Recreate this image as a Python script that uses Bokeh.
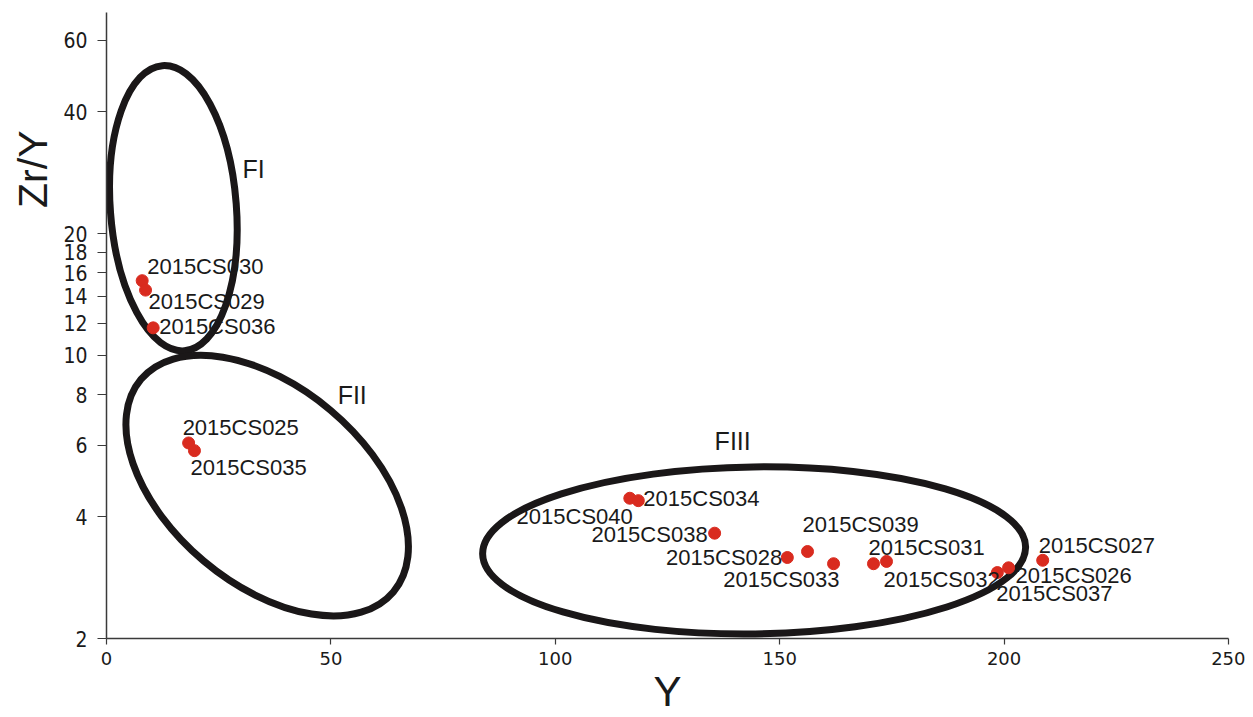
from bokeh.plotting import figure
from bokeh.models import ColumnDataSource, FixedTicker, Range1d, Title, CustomJSTickFormatter
from bokeh.core.properties import value
from bokeh.embed import file_html
from bokeh.resources import INLINE

# ---- data ----
samples = ["2015CS030", "2015CS029", "2015CS036", "2015CS025", "2015CS035",
           "2015CS040", "2015CS034", "2015CS038", "2015CS028", "2015CS039",
           "2015CS033", "2015CS031", "2015CS032", "2015CS037", "2015CS026",
           "2015CS027"]
y_ppm = [7.95, 8.7, 10.4, 18.3, 19.6,
         116.6, 118.5, 135.5, 151.7, 156.2,
         162.0, 170.9, 173.8, 198.5, 201.0,
         208.6]
zr_y = [15.3, 14.5, 11.7, 6.08, 5.82,
        4.44, 4.38, 3.64, 3.17, 3.28,
        3.06, 3.06, 3.10, 2.91, 2.99,
        3.12]

groups = ["FI", "FII", "FIII"]
group_y_ppm = [30.3, 51.5, 135.5]
group_zr_y = [28.9, 8.0, 6.16]

# ellipse fields (centre in data units)
field_cx = [14.9, 35.8, 144.3]
field_cy = [23.1, 4.77, 3.30]

x_ticks = [0, 50, 100, 150, 200, 250]
y_ticks = [2, 4, 6, 8, 10, 12, 14, 16, 18, 20, 40, 60]

# ---- layout / style (screen units) ----
field_w = [126, 330, 543]
field_h = [286, 197, 167]
field_angle = [0.077, -0.70, 0.013]

label_dx = [5, 3, 6, -6, -4, 3, 5, -7, -5, -5, 6, -5, -3, -1, 7, -4]
label_dy = [-14, 11, -1, -15, 17, 18, -2, 1, 0, -27, 16, -16, 18, 21, 8, -15]
label_align = ["left", "left", "left", "left", "left", "right", "left", "right",
               "right", "left", "right", "left", "left", "left", "left", "left"]

p = figure(width=1245, height=717, y_axis_type="log",
           x_range=Range1d(0, 250), y_range=Range1d(2, 70.3),
           output_backend="svg", toolbar_location=None,
           min_border_left=106, min_border_right=17,
           min_border_top=12, min_border_bottom=79)
p.outline_line_color = None
p.xgrid.visible = False
p.ygrid.visible = False
p.background_fill_color = "white"
p.border_fill_color = "white"

axis_color = "#3a3a3a"
p.xaxis.ticker = FixedTicker(ticks=x_ticks)
p.yaxis.ticker = FixedTicker(ticks=y_ticks)
p.yaxis.formatter = CustomJSTickFormatter(code="return tick.toString();")
for ax in (p.xaxis, p.yaxis):
    ax.axis_line_color = axis_color
    ax.axis_line_width = 1.5
    ax.major_tick_line_color = axis_color
    ax.major_tick_line_width = 1.2
    ax.minor_tick_line_color = None
    ax.major_tick_in = 0
    ax.major_label_text_color = "#1a1a1a"
p.xaxis.major_tick_out = 6
p.yaxis.major_tick_out = 9
p.xaxis.major_label_standoff = 7
p.yaxis.major_label_standoff = 10
p.xaxis.major_label_text_font = "DejaVu Sans"
p.xaxis.major_label_text_font_size = "18px"
p.yaxis.major_label_text_font = "DejaVu Sans Condensed, Roboto"
p.yaxis.major_label_text_font_size = "21px"

p.xaxis.axis_label = "Y"
p.xaxis.axis_label_text_font = "Liberation Sans"
p.xaxis.axis_label_text_font_style = "normal"
p.xaxis.axis_label_text_font_size = "42px"
p.xaxis.axis_label_text_color = "#1a1a1a"
p.xaxis.axis_label_standoff = 0

p.add_layout(Title(text="Zr/Y", align="right", offset=118, standoff=10,
                   text_font="Liberation Sans", text_font_size="41px",
                   text_font_style="normal", text_color="#1a1a1a"), "left")

# ellipses
p.ellipse(x=field_cx, y=field_cy, width=field_w, height=field_h, angle=field_angle,
          width_units="screen", height_units="screen",
          fill_color=None, line_color="#1a1718", line_width=7)

# points
src = ColumnDataSource(dict(x=y_ppm, y=zr_y, name=samples,
                            dx=label_dx, dy=label_dy, align=label_align))
p.scatter(x="x", y="y", source=src, size=12, fill_color="#d92b1f",
          line_color="#d92b1f")
p.text(x="x", y="y", text="name", source=src, x_offset="dx", y_offset="dy",
       text_align="align", text_baseline="middle",
       text_font=value("Liberation Sans"), text_font_size="22px",
       text_color="#1a1a1a")

# group labels
p.text(x=group_y_ppm, y=group_zr_y, text=groups, text_align="left",
       text_baseline="middle", text_font=value("Liberation Sans"),
       text_font_size="25px", text_color="#1a1a1a")

open("out.html", "w").write(file_html(p, INLINE))
